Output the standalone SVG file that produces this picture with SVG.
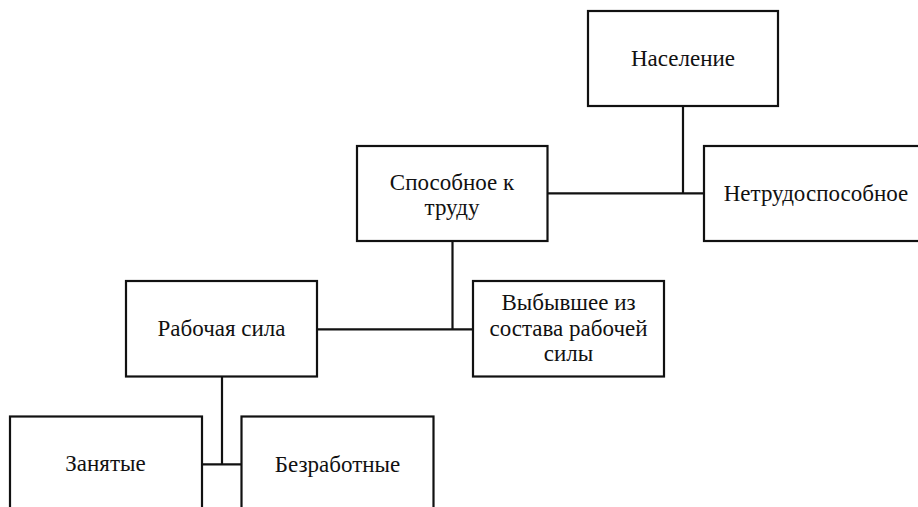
<svg xmlns="http://www.w3.org/2000/svg" width="918" height="507" viewBox="0 0 918 507">
<style>
.box{fill:#fff;stroke:#111;stroke-width:2.2}
.lbl{font-family:"Liberation Serif","Times New Roman",serif;font-size:23px;fill:#111;text-anchor:middle}
.con{fill:none;stroke:#111;stroke-width:2.2}
</style>
<rect width="918" height="507" fill="#fff"/>
<g id="connectors">
<path class="con" d="M683,106 V193.3 M547.5,193.3 H704"/>
<path class="con" d="M452.5,241 V329.3 M317,329.3 H473"/>
<path class="con" d="M222,376.5 V464.3 M202,464.3 H241.5"/>
</g>
<g id="node-naselenie">
<rect class="box" x="588" y="11" width="190" height="95"/>
<text class="lbl" x="683" y="65.5">Население</text>
</g>
<g id="node-sposobnoe">
<rect class="box" x="357" y="146" width="190.5" height="95"/>
<text class="lbl" x="452" y="189.5">Способное к</text>
<text class="lbl" x="452" y="215">труду</text>
</g>
<g id="node-netrudosposobnoe">
<rect class="box" x="704" y="146" width="226" height="95"/>
<text class="lbl" x="816" y="201">Нетрудоспособное</text>
</g>
<g id="node-rabochaya-sila">
<rect class="box" x="126" y="281" width="191" height="95.5"/>
<text class="lbl" x="221.5" y="336">Рабочая сила</text>
</g>
<g id="node-vybyvshee">
<rect class="box" x="473" y="281" width="191" height="95.5"/>
<text class="lbl" x="568.5" y="309.5">Выбывшее из</text>
<text class="lbl" x="568.5" y="335.5">состава рабочей</text>
<text class="lbl" x="568.5" y="361">силы</text>
</g>
<g id="node-zanyatye">
<rect class="box" x="10" y="416.5" width="192" height="110"/>
<text class="lbl" x="105.5" y="471">Занятые</text>
</g>
<g id="node-bezrabotnye">
<rect class="box" x="241.5" y="416.5" width="192" height="110"/>
<text class="lbl" x="337.5" y="471.5">Безработные</text>
</g>
</svg>
